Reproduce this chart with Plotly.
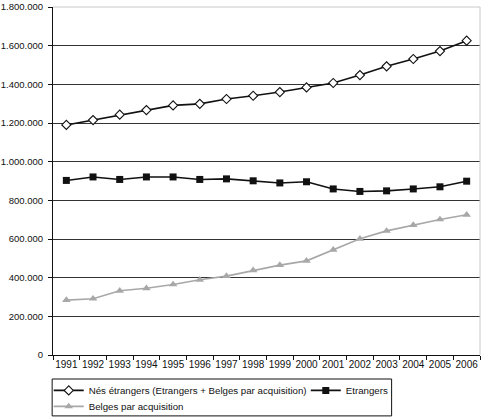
import plotly.graph_objects as go

years = ["1991", "1992", "1993", "1994", "1995", "1996", "1997", "1998",
         "1999", "2000", "2001", "2002", "2003", "2004", "2005", "2006"]
nes_etrangers = [1190000, 1215000, 1243000, 1267000, 1291000, 1299000, 1324000, 1341000,
                 1360000, 1384000, 1407000, 1448000, 1493000, 1531000, 1572000, 1626000]
etrangers = [903000, 921000, 908000, 921000, 921000, 908000, 911000, 901000,
             890000, 896000, 859000, 846000, 849000, 859000, 870000, 899000]
belges_acq = [284000, 291000, 332000, 345000, 365000, 389000, 408000, 438000,
              465000, 487000, 544000, 601000, 642000, 672000, 701000, 725000]
y_ticks = [0, 200000, 400000, 600000, 800000, 1000000, 1200000, 1400000, 1600000, 1800000]

fig = go.Figure()
fig.add_trace(go.Scatter(
    x=years, y=nes_etrangers, mode="lines+markers",
    name="Nés étrangers (Etrangers + Belges par acquisition)",
    line=dict(color="#111111", width=1.6),
    marker=dict(symbol="diamond", size=7, color="white", line=dict(color="#111111", width=1.1)),
    legend="legend",
))
fig.add_trace(go.Scatter(
    x=years, y=etrangers, mode="lines+markers", name="Etrangers",
    line=dict(color="#111111", width=1.6),
    marker=dict(symbol="square", size=7, color="#111111"),
    legend="legend3",
))
fig.add_trace(go.Scatter(
    x=years, y=belges_acq, mode="lines+markers", name="Belges par acquisition",
    line=dict(color="#a8a8a8", width=1.6),
    marker=dict(symbol="triangle-up", size=7.5, color="#a8a8a8"),
    legend="legend2",
))

# light border on top and right of the plot area
fig.add_shape(type="line", xref="paper", yref="paper", x0=0, y0=1, x1=1, y1=1,
              line=dict(color="#c8c8c8", width=1), layer="above")
fig.add_shape(type="line", xref="paper", yref="paper", x0=1, y0=0, x1=1, y1=1,
              line=dict(color="#c8c8c8", width=1), layer="above")
# legend frame
fig.add_shape(type="rect", xref="paper", yref="paper", x0=-0.002, x1=0.793,
              y0=-0.175, y1=-0.069, line=dict(color="#111111", width=1),
              fillcolor="rgba(0,0,0,0)", layer="above")

legend_common = dict(
    orientation="h", xanchor="left", yanchor="top",
    borderwidth=0, bgcolor="rgba(0,0,0,0)",
    font=dict(size=9.7), itemwidth=30,
)

fig.update_layout(
    width=482, height=417,
    margin=dict(l=53, r=2, t=7, b=62, autoexpand=False),
    paper_bgcolor="white", plot_bgcolor="white",
    font=dict(family="Liberation Sans, Arial, sans-serif", size=10, color="#111111"),
    separators=",.",
    showlegend=True,
    legend=dict(x=-0.01, y=-0.060, **legend_common),
    legend3=dict(x=0.592, y=-0.060, **legend_common),
    legend2=dict(x=-0.01, y=-0.106, **legend_common),
    xaxis=dict(
        type="category", range=[-0.5, 15.5], tickangle=0,
        showgrid=False, showline=True, linecolor="#111111", linewidth=1,
        ticks="outside", tickson="boundaries", ticklen=4, tickcolor="#111111",
        tickfont=dict(size=10),
    ),
    yaxis=dict(
        range=[0, 1800000], tickvals=y_ticks, tickformat=",d",
        showgrid=True, gridcolor="#333333", gridwidth=1,
        showline=True, linecolor="#111111", linewidth=1,
        ticks="outside", ticklen=4, tickcolor="#111111", ticklabelstandoff=3,
        zeroline=False, tickfont=dict(size=9.5),
    ),
)

fig.write_html("out.html", config={"displayModeBar": False},
               post_script="document.body.style.margin='0';")
